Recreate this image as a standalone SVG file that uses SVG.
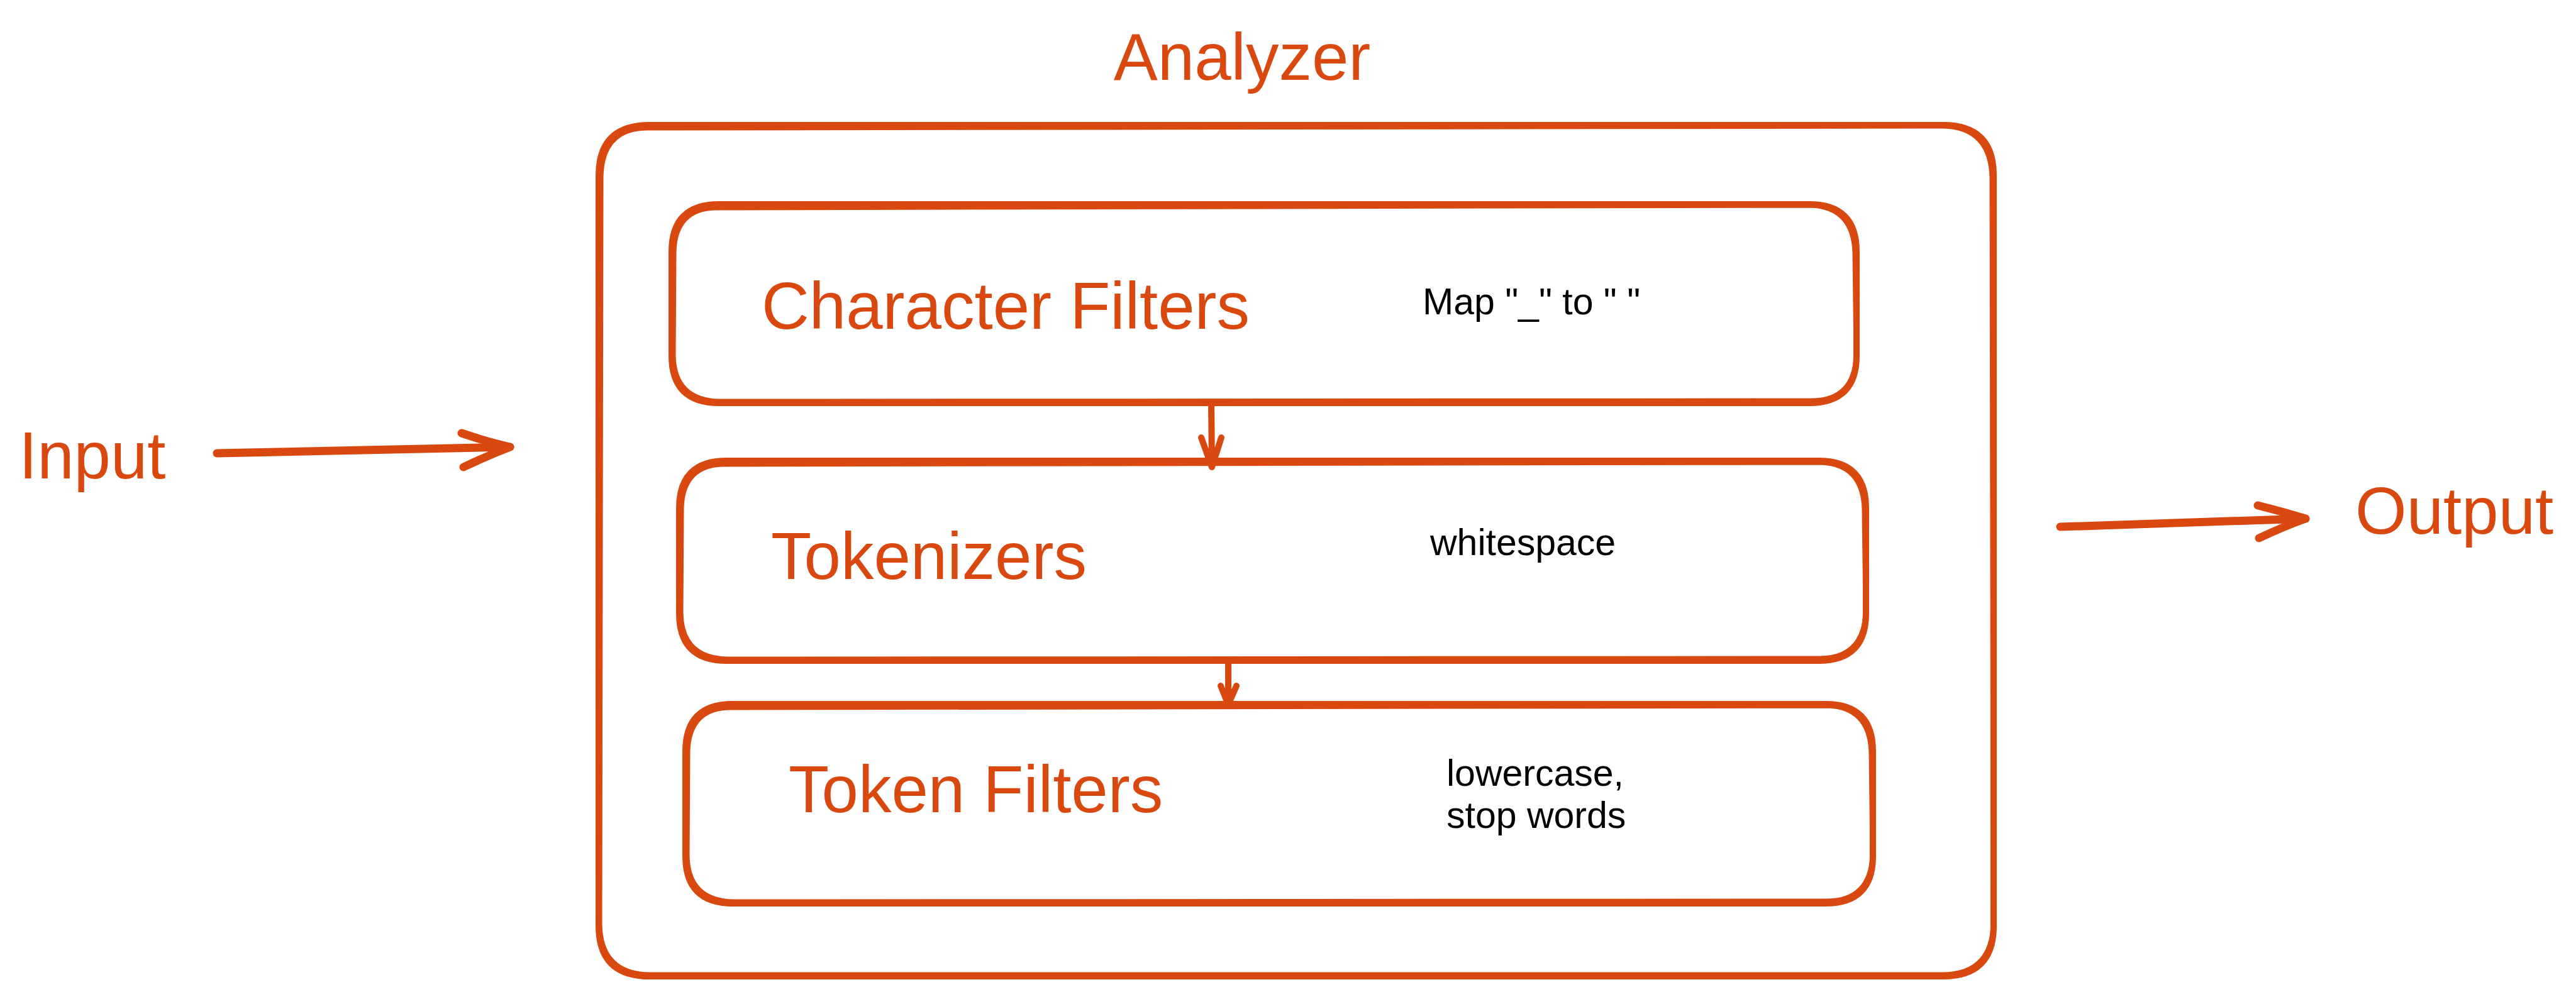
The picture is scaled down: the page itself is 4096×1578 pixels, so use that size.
<svg xmlns="http://www.w3.org/2000/svg" width="4096" height="1578" viewBox="0 0 4096 1578">
<style>
.box{fill:none;stroke:#d9480f;stroke-width:10;stroke-linejoin:round;stroke-linecap:round}
.box2{fill:none;stroke:#d9480f;stroke-width:5;stroke-linejoin:round;stroke-linecap:round}
.title{font-family:"Liberation Sans",Arial,Helvetica,sans-serif;font-size:105px;fill:#d9480f}
.note{font-family:"Liberation Sans",Arial,Helvetica,sans-serif;font-size:59px;fill:#000}
.big{fill:none;stroke:#d9480f;stroke-width:13;stroke-linecap:round;stroke-linejoin:round}
.small{fill:none;stroke:#d9480f;stroke-width:10;stroke-linecap:round;stroke-linejoin:round}
</style>
<rect width="4096" height="1578" fill="#fff"/>
<g id="analyzer">
<path class="box" d="M1032,199 L3090,199 Q3170,199 3170,279 L3170,1473 Q3170,1553 3090,1553 L1032,1553 Q952,1553 952,1473 L952,279 Q952,199 1032,199 Z"/>
<path class="box2" d="M1030,205 L3092,202 Q3164,205 3166,282 L3168,1470 Q3166,1549 3088,1549 L1035,1549 Q956,1549 955,1470 L957,282 Q958,205 1030,205 Z"/>
<text class="title" x="1975" y="127" text-anchor="middle">Analyzer</text>
</g>
<g id="character-filters">
<path class="box" d="M1143,325 L2877,325 Q2952,325 2952,400 L2952,566 Q2952,641 2877,641 L1143,641 Q1068,641 1068,566 L1068,400 Q1068,325 1143,325 Z"/>
<path class="box2" d="M1140,332 L2880,328 Q2946,331 2948,402 L2950,565 Q2948,636 2880,636 L1145,637 Q1073,636 1072,565 L1073,400 Q1075,332 1140,332 Z"/>
<text class="title" x="1211" y="523">Character Filters</text>
<text class="note" x="2262" y="500">Map "_" to " "</text>
</g>
<g id="tokenizers">
<path class="box" d="M1155,733 L2892,733 Q2967,733 2967,808 L2967,976 Q2967,1051 2892,1051 L1155,1051 Q1080,1051 1080,976 L1080,808 Q1080,733 1155,733 Z"/>
<path class="box2" d="M1152,740 L2895,737 Q2961,739 2963,810 L2965,975 Q2962,1046 2893,1046 L1157,1047 Q1085,1046 1084,975 L1085,808 Q1087,740 1152,740 Z"/>
<text class="title" x="1226" y="921">Tokenizers</text>
<text class="note" x="2274" y="883">whitespace</text>
</g>
<g id="token-filters">
<path class="box" d="M1165,1120 L2903,1120 Q2978,1120 2978,1195 L2978,1362 Q2978,1437 2903,1437 L1165,1437 Q1090,1437 1090,1362 L1090,1195 Q1090,1120 1165,1120 Z"/>
<path class="box2" d="M1162,1127 L2906,1124 Q2972,1126 2974,1197 L2976,1361 Q2973,1432 2904,1432 L1167,1433 Q1095,1432 1094,1361 L1095,1195 Q1097,1127 1162,1127 Z"/>
<text class="title" x="1254" y="1292">Token Filters</text>
<text class="note" x="2300" y="1250">lowercase,</text>
<text class="note" x="2300" y="1317">stop words</text>
</g>
<g id="input">
<text class="title" x="30" y="761">Input</text>
</g>
<g id="output">
<text class="title" x="3745" y="849">Output</text>
</g>
<g id="connectors">
<path class="big" d="M345,721 L811,711"/>
<path class="big" d="M734,689 Q775,703 811,711 Q775,725 737,743"/>
<path class="big" d="M3276,838 L3666,825"/>
<path class="big" d="M3590,804 Q3630,814 3666,825 Q3630,838 3592,856"/>
<path class="small" d="M1926,641 L1927,740"/>
<path class="small" d="M1910,696 L1927,743 L1942,696"/>
<path class="small" d="M1953,1051 L1953,1118"/>
<path class="small" d="M1941,1091 L1953,1121 L1966,1091"/>
</g>
</svg>
